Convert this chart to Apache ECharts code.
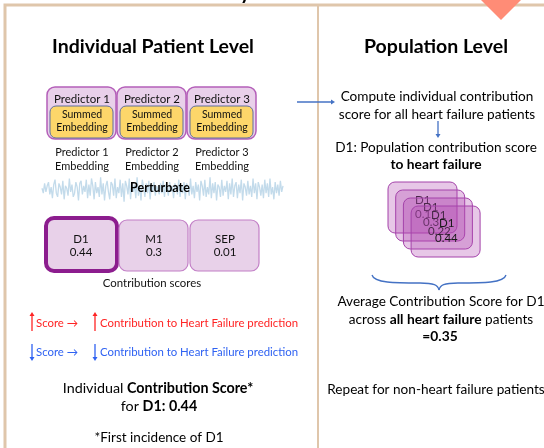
<!DOCTYPE html>
<html>
<head>
<meta charset="utf-8">
<script src="https://cdn.jsdelivr.net/npm/echarts@6/dist/echarts.min.js"></script>
<style>
  html, body { margin: 0; padding: 0; background: #fff; }
  #main { width: 544px; height: 448px; }
</style>
</head>
<body>
<div id="main"></div>
<script>
// predictors (top row)
var predictors = ['Predictor 1', 'Predictor 2', 'Predictor 3'];
// contribution scores
var scoreNames = ['D1', 'M1', 'SEP'];
var scoreValues = ['0.44', '0.3', '0.01'];
// D1 scores of several patients (stacked cards)
var cardScores = ['0.1', '0.3', '0.22', '0.44'];
var avgScore = '0.35';
// perturbation noise
var wave = [0.1,-0.3,0.5,-0.2,0.3,0.6,-0.4,0.2,-0.7,0.4,0.8,-0.3,-0.6,0.5,0.2,-0.4,0.7,-0.8,0.3,0.1,
  -0.5,0.9,-0.2,0.4,-0.6,-0.3,0.6,0.2,-0.9,0.5,0.7,-0.4,0.3,-0.2,0.8,-0.7,0.4,-0.5,0.9,0.3,
  -0.8,0.6,-0.3,0.2,-0.6,1.0,-0.4,0.5,-0.9,0.3,0.7,-0.2,-0.8,0.6,0.4,-0.5,0.9,-0.7,0.2,-0.3,
  0.8,-0.6,0.5,-1.0,0.7,0.3,-0.4,0.9,-0.8,0.6,-0.2,0.4,-0.7,1.0,-0.5,0.3,-0.9,0.8,0.2,-0.6,
  0.5,-0.3,0.7,-0.8,0.4,-0.2,0.6,-0.5,0.3,0.2,-0.4,0.5,-0.3,0.7,-0.6,0.4,0.1,-0.5,0.6,-0.2,
  0.3,-0.7,0.5,0.2,-0.4,0.8,-0.6,0.3,-0.3,0.6,-0.8,0.5,0.2,-0.5,0.9,-0.4,0.3,-0.7,0.6,-0.2,
  0.4,-0.9,0.7,0.3,-0.5,0.8,-0.6,0.2,-0.4,1.0,-0.7,0.5,-0.3,0.6,-0.9,0.4,0.2,-0.6,0.8,-0.5,
  0.3,-0.2,0.7,-0.8,0.5,-0.4,0.9,-0.6,0.3,0.6,-0.7,0.4,-0.3,0.8,-0.9,0.5,0.2,-0.5,0.7,-0.4,
  0.3,-0.6,0.9,-0.3,0.5,-0.8,0.6,0.2,-0.5,0.4,-0.7,0.8,-0.3,0.5,-0.6,0.9,-0.4,0.2,-0.8,0.6,
  -0.3,0.4,-0.5,0.7,-0.2,0.3];
var waveX = wave.map(function (v, i) { return i; });

var chart = echarts.init(document.getElementById('main'));

var FONT = 'Lato, "Open Sans", sans-serif';
var tan = '#dfc6ab';
var blue = '#4472c4';

var g = [];
// frame
g.push({ type: 'rect', shape: { x: 5, y: 5, width: 560, height: 460 }, style: { fill: null, stroke: tan, lineWidth: 3 } });
g.push({ type: 'line', shape: { x1: 318, y1: 6, x2: 318, y2: 448 }, style: { stroke: tan, lineWidth: 2 } });
// cut-off title glyph and salmon marker
g.push({ type: 'text', x: 240, y: -17, style: { text: 'y', font: 'bold 20px ' + FONT, fill: '#000' } });
g.push({ type: 'polygon', shape: { points: [[481, 0], [521, 0], [501, 20]] }, style: { fill: '#ff8c76' } });

// titles
g.push({ type: 'text', x: 153, y: 47, style: { text: 'Individual Patient Level', font: 'bold 19.5px ' + FONT, fill: '#000', align: 'center', verticalAlign: 'middle' } });
g.push({ type: 'text', x: 436, y: 47, style: { text: 'Population Level', font: 'bold 19.5px ' + FONT, fill: '#000', align: 'center', verticalAlign: 'middle' } });

// predictor boxes
predictors.forEach(function (p, i) {
  var x0 = 47 + i * 70;
  var cx = x0 + 35;
  g.push({ type: 'rect', shape: { x: x0, y: 87, width: 69, height: 52, r: 8 }, style: { fill: '#e9d0ea', stroke: '#b45fb9', lineWidth: 1.5 } });
  g.push({ type: 'rect', shape: { x: x0 + 3, y: 106, width: 63, height: 32, r: 6 }, style: { fill: '#fdd66a', stroke: '#5e6f9c', lineWidth: 1 } });
  g.push({ type: 'text', x: cx, y: 99, style: { text: p, font: '11.5px ' + FONT, fill: '#111', align: 'center', verticalAlign: 'middle' } });
  g.push({ type: 'text', x: cx, y: 115, style: { text: 'Summed', font: '10.5px ' + FONT, fill: '#111', align: 'center', verticalAlign: 'middle' } });
  g.push({ type: 'text', x: cx, y: 128, style: { text: 'Embedding', font: '10.5px ' + FONT, fill: '#111', align: 'center', verticalAlign: 'middle' } });
  g.push({ type: 'text', x: cx, y: 152, style: { text: p, font: '11px ' + FONT, fill: '#111', align: 'center', verticalAlign: 'middle' } });
  g.push({ type: 'text', x: cx, y: 166, style: { text: 'Embedding', font: '11px ' + FONT, fill: '#111', align: 'center', verticalAlign: 'middle' } });
});

// perturbate label
g.push({ type: 'text', x: 160, y: 188, z: 10, style: { text: 'Perturbate', font: 'bold 12.5px ' + FONT, fill: '#000', align: 'center', verticalAlign: 'middle' } });

// contribution score boxes
scoreNames.forEach(function (n, i) {
  var x0 = [46, 119, 190][i];
  var sel = i === 0;
  g.push({ type: 'rect', shape: { x: x0, y: sel ? 218 : 220, width: sel ? 71 : 69, height: sel ? 53 : 51, r: 8 },
    style: { fill: '#e8d1e9', stroke: sel ? '#8c1d8e' : '#c27fc6', lineWidth: sel ? 4 : 1.2 } });
  g.push({ type: 'text', x: x0 + 35, y: 239, style: { text: n, font: '11.5px ' + FONT, fill: '#111', align: 'center', verticalAlign: 'middle' } });
  g.push({ type: 'text', x: x0 + 35, y: 252, style: { text: scoreValues[i], font: '11.5px ' + FONT, fill: '#111', align: 'center', verticalAlign: 'middle' } });
});
g.push({ type: 'text', x: 152, y: 283, style: { text: 'Contribution scores', font: '11.4px ' + FONT, fill: '#111', align: 'center', verticalAlign: 'middle' } });

// legend lines with up/down arrows
function vArrow(x, y1, y2, color) {
  var dir = y2 > y1 ? 1 : -1;
  g.push({ type: 'line', shape: { x1: x, y1: y1, x2: x, y2: y2 - dir * 2 }, style: { stroke: color, lineWidth: 1.3 } });
  g.push({ type: 'polygon', shape: { points: [[x - 2.5, y2 - dir * 4], [x + 2.5, y2 - dir * 4], [x, y2]] }, style: { fill: color } });
}
var red = '#ff2424', lblue = '#2f62f2';
vArrow(32, 331, 312, red);
vArrow(95, 331, 312, red);
vArrow(32, 344, 361, lblue);
vArrow(95, 344, 361, lblue);
var LF = '11.4px ' + FONT;
g.push({ type: 'text', x: 36, y: 323, style: { text: 'Score \u2192', font: LF, fill: red, verticalAlign: 'middle' } });
g.push({ type: 'text', x: 100, y: 323, style: { text: 'Contribution to Heart Failure prediction', font: LF, fill: red, verticalAlign: 'middle' } });
g.push({ type: 'text', x: 36, y: 352, style: { text: 'Score \u2192', font: LF, fill: lblue, verticalAlign: 'middle' } });
g.push({ type: 'text', x: 100, y: 352, style: { text: 'Contribution to Heart Failure prediction', font: LF, fill: lblue, verticalAlign: 'middle' } });

var rich = { b: { fontWeight: 'bold', fontSize: 14.3, fontFamily: FONT, fill: '#000' } };
var rich2 = { b: { fontWeight: 'bold', fontSize: 13.8, fontFamily: FONT, fill: '#000' } };
g.push({ type: 'text', x: 158, y: 388, style: { text: 'Individual {b|Contribution Score*}', font: '14.3px ' + FONT, fill: '#000', align: 'center', verticalAlign: 'middle', rich: rich } });
g.push({ type: 'text', x: 159, y: 406, style: { text: 'for {b|D1: ' + scoreValues[0] + '}', font: '14.3px ' + FONT, fill: '#000', align: 'center', verticalAlign: 'middle', rich: rich } });
g.push({ type: 'text', x: 159, y: 438, style: { text: '*First incidence of D1', font: '13.5px ' + FONT, fill: '#000', align: 'center', verticalAlign: 'middle' } });

// right panel
var RF = '13.6px ' + FONT;
g.push({ type: 'line', shape: { x1: 297, y1: 102, x2: 333, y2: 102 }, style: { stroke: blue, lineWidth: 1.3 } });
g.push({ type: 'polygon', shape: { points: [[331, 99.5], [331, 104.5], [335, 102]] }, style: { fill: blue } });
g.push({ type: 'text', x: 437, y: 97, style: { text: 'Compute individual contribution', font: RF, fill: '#000', align: 'center', verticalAlign: 'middle' } });
g.push({ type: 'text', x: 437, y: 115, style: { text: 'score for all heart failure patients', font: RF, fill: '#000', align: 'center', verticalAlign: 'middle' } });
vArrow(438, 121, 138, blue);
g.push({ type: 'text', x: 436, y: 148, style: { text: 'D1: Population contribution score', font: RF, fill: '#000', align: 'center', verticalAlign: 'middle' } });
g.push({ type: 'text', x: 436, y: 165, style: { text: 'to heart failure', font: 'bold 13.8px ' + FONT, fill: '#000', align: 'center', verticalAlign: 'middle' } });

// stacked patient cards
cardScores.forEach(function (s, i) {
  var x0 = 388 + i * 7.7, y0 = 182 + i * 8;
  g.push({ type: 'rect', shape: { x: x0, y: y0, width: 69, height: 51, r: 7 }, style: { fill: 'rgba(176,70,176,0.3)', stroke: '#a443aa', lineWidth: 1 } });
  g.push({ type: 'text', x: 415 + i * 8, y: 200 + i * 7.7, style: { text: 'D1', font: '11.5px ' + FONT, fill: '#1a1a1a', verticalAlign: 'middle' } });
  g.push({ type: 'text', x: [415, 423, 428, 435][i], y: [214, 222, 231, 238][i], style: { text: s, font: '11.5px ' + FONT, fill: '#1a1a1a', verticalAlign: 'middle' } });
});

// curly brace
var bs = { stroke: blue, lineWidth: 1.3, fill: null };
g.push({ type: 'bezierCurve', shape: { x1: 372, y1: 275, cpx1: 374, cpy1: 283, cpx2: 395, cpy2: 283, x2: 420, y2: 283 }, style: bs });
g.push({ type: 'bezierCurve', shape: { x1: 420, y1: 283, cpx1: 434, cpy1: 283, cpx2: 438, cpy2: 285, x2: 439, y2: 290 }, style: bs });
g.push({ type: 'bezierCurve', shape: { x1: 506, y1: 275, cpx1: 504, cpy1: 283, cpx2: 483, cpy2: 283, x2: 458, y2: 283 }, style: bs });
g.push({ type: 'bezierCurve', shape: { x1: 458, y1: 283, cpx1: 444, cpy1: 283, cpx2: 440, cpy2: 285, x2: 439, y2: 290 }, style: bs });

g.push({ type: 'text', x: 441, y: 302, style: { text: 'Average Contribution Score for D1', font: RF, fill: '#000', align: 'center', verticalAlign: 'middle' } });
g.push({ type: 'text', x: 441, y: 320, style: { text: 'across {b|all heart failure} patients', font: RF, fill: '#000', align: 'center', verticalAlign: 'middle', rich: rich2 } });
g.push({ type: 'text', x: 440, y: 337, style: { text: '=' + avgScore, font: 'bold 13.8px ' + FONT, fill: '#000', align: 'center', verticalAlign: 'middle' } });
g.push({ type: 'text', x: 436, y: 390, style: { text: 'Repeat for non-heart failure patients', font: RF, fill: '#000', align: 'center', verticalAlign: 'middle' } });

var option = {
  backgroundColor: '#fff',
  animation: false,
  grid: { left: 42, top: 176, width: 241, height: 27 },
  xAxis: { type: 'category', data: waveX, show: false, boundaryGap: false },
  yAxis: { type: 'value', min: -1.1, max: 1.1, show: false },
  series: [{
    type: 'line',
    data: wave,
    showSymbol: false,
    lineStyle: { color: '#c3dbeb', width: 1.3 },
    z: 1
  }],
  graphic: g
};
chart.setOption(option);
</script>
</body>
</html>
